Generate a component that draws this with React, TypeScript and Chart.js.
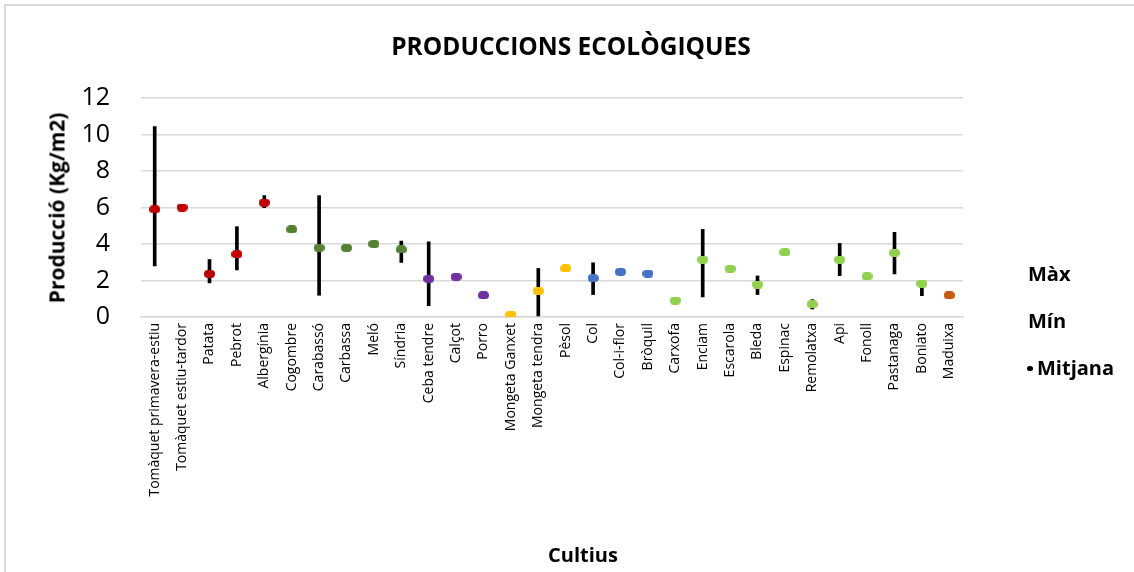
import React, { useEffect, useRef } from "react";
import { Chart, registerables } from "chart.js";

Chart.register(...registerables);

const categories = [
  "Tomàquet primavera-estiu", "Tomàquet estiu-tardor", "Patata", "Pebrot", "Albergínia",
  "Cogombre", "Carabassó", "Carbassa", "Meló", "Síndria",
  "Ceba tendre", "Calçot", "Porro", "Mongeta Ganxet", "Mongeta tendra",
  "Pèsol", "Col", "Col-i-flor", "Bròquil", "Carxofa",
  "Enciam", "Escarola", "Bleda", "Espinac", "Remolatxa",
  "Api", "Fonoll", "Pastanaga", "Boniato", "Maduixa",
];

const mitjana = [
  5.9, 6.0, 2.36, 3.44, 6.27,
  4.8, 3.79, 3.79, 4.0, 3.7,
  2.09, 2.2, 1.19, 0.13, 1.43,
  2.66, 2.13, 2.47, 2.38, 0.9,
  3.15, 2.64, 1.78, 3.54, 0.7,
  3.15, 2.22, 3.52, 1.83, 1.19,
];

const maxim = [
  10.44, null, 3.15, 4.95, 6.65,
  null, 6.65, null, null, 4.16,
  4.12, null, null, null, 2.66,
  null, 2.97, null, null, null,
  4.8, null, 2.25, null, 0.95,
  4.03, null, 4.64, 1.88, null,
];

const minim = [
  2.8, null, 1.87, 2.58, 5.99,
  null, 1.19, null, null, 2.99,
  0.62, null, null, null, 0.06,
  null, 1.23, null, null, null,
  1.1, null, 1.23, null, 0.44,
  2.27, null, 2.36, 1.17, null,
];

// group of each category (for marker colour)
const groups = [
  "red", "red", "red", "red", "red",
  "dkgreen", "dkgreen", "dkgreen", "dkgreen", "dkgreen",
  "purple", "purple", "purple", "gold", "gold",
  "gold", "blue", "blue", "blue", "ltgreen",
  "ltgreen", "ltgreen", "ltgreen", "ltgreen", "ltgreen",
  "ltgreen", "ltgreen", "ltgreen", "ltgreen", "orange",
];

const yTicks = [0, 2, 4, 6, 8, 10, 12];

const COLORS: Record<string, string> = {
  red: "#C00000",
  dkgreen: "#548235",
  purple: "#7030A0",
  gold: "#FFC000",
  blue: "#4472C4",
  ltgreen: "#92D050",
  orange: "#C55A11",
};

const FONT = "'Open Sans', 'DejaVu Sans', sans-serif";

function makeMarker(color: string): HTMLCanvasElement {
  const c = document.createElement("canvas");
  c.width = 11;
  c.height = 8;
  const ctx = c.getContext("2d")!;
  ctx.fillStyle = color;
  ctx.beginPath();
  const r = 4;
  ctx.moveTo(r, 0);
  ctx.lineTo(11 - r, 0);
  ctx.arc(11 - r, 4, r, -Math.PI / 2, Math.PI / 2);
  ctx.lineTo(r, 8);
  ctx.arc(r, 4, r, Math.PI / 2, (3 * Math.PI) / 2);
  ctx.closePath();
  ctx.fill();
  return c;
}

export default function App() {
  const ref = useRef<HTMLCanvasElement | null>(null);

  useEffect(() => {
    if (!ref.current) return;
    const markers: Record<string, HTMLCanvasElement> = {};
    Object.keys(COLORS).forEach((k) => (markers[k] = makeMarker(COLORS[k])));
    const ranges = categories.map((_, i) =>
      maxim[i] == null || minim[i] == null ? null : [minim[i] as number, maxim[i] as number]
    );

    const chart = new Chart(ref.current, {
      type: "bar",
      data: {
        labels: categories,
        datasets: [
          {
            type: "line",
            label: "Mitjana",
            data: mitjana,
            showLine: false,
            pointStyle: groups.map((g) => markers[g]) as any,
            pointRadius: 5,
            order: 0,
          } as any,
          {
            type: "bar",
            label: "Rang",
            data: ranges as any,
            backgroundColor: "#000000",
            borderWidth: 0,
            barThickness: 3,
            order: 1,
          },
        ],
      },
      options: {
        responsive: false,
        animation: false,
        layout: { padding: { left: 0, top: 98, right: 171, bottom: 55 } },
        plugins: {
          legend: { display: false },
          title: { display: false },
          tooltip: { enabled: false },
        },
        scales: {
          x: {
            grid: { display: false, drawTicks: false },
            border: { display: true, color: "#d9d9d9", width: 1.5 },
            ticks: {
              autoSkip: false,
              minRotation: 90,
              maxRotation: 90,
              padding: 6,
              color: "#000",
              font: { family: FONT, size: 14 },
            },
            afterFit: (s: any) => {
              s.height = 200;
            },
          },
          y: {
            min: 0,
            max: 12,
            afterBuildTicks: (s: any) => {
              s.ticks = yTicks.map((v) => ({ value: v }));
            },
            grid: { color: "#d9d9d9", lineWidth: 1.5, drawTicks: false },
            border: { display: false },
            ticks: {
              padding: 31,
              color: "#000",
              font: { family: FONT, size: 25 },
            },
            afterFit: (s: any) => {
              s.width = 141;
            },
          },
        },
      },
    });
    return () => chart.destroy();
  }, []);

  const boldText = (size: number): React.CSSProperties => ({
    position: "absolute",
    fontFamily: FONT,
    fontWeight: 700,
    fontSize: size,
    color: "#000",
    whiteSpace: "nowrap",
    lineHeight: 1,
  });

  return (
    <div style={{ position: "absolute", left: 0, top: 0, width: 1134, height: 572, overflow: "hidden", background: "#fff" }}>
      <div
        style={{
          position: "absolute",
          left: 4,
          top: 4,
          width: 1200,
          height: 700,
          border: "2px solid #d9d9d9",
          boxSizing: "border-box",
        }}
      />
      <canvas ref={ref} width={1134} height={572} style={{ position: "absolute", left: 0, top: 0 }} />
      <div style={{ ...boldText(24.5), left: 571, top: 46, transform: "translate(-50%, -50%)" }}>
        PRODUCCIONS ECOLÒGIQUES
      </div>
      <div style={{ ...boldText(21), left: 57, top: 208, transform: "translate(-50%, -50%) rotate(-90deg)" }}>
        Producció (Kg/m2)
      </div>
      <div style={{ ...boldText(20), left: 583, top: 555, transform: "translate(-50%, -50%)" }}>Cultius</div>
      <div style={{ ...boldText(20), left: 1028, top: 274, transform: "translateY(-50%)" }}>Màx</div>
      <div style={{ ...boldText(20), left: 1028, top: 321, transform: "translateY(-50%)" }}>Mín</div>
      <div style={{ ...boldText(20), left: 1027, top: 368, transform: "translateY(-50%)", display: "flex", alignItems: "center" }}>
        <span style={{ display: "inline-block", width: 6, height: 5, borderRadius: 3, background: "#000", marginRight: 4 }} />
        Mitjana
      </div>
    </div>
  );
}
